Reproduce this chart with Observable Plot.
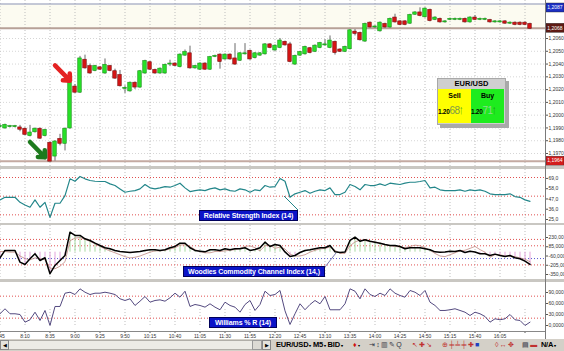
<!DOCTYPE html>
<html><head><meta charset="utf-8">
<script src="https://cdn.jsdelivr.net/npm/d3@7"></script>
<script src="https://cdn.jsdelivr.net/npm/@observablehq/plot@0.6"></script>
<style>
body{margin:0;background:#fff;}
#wrap{position:relative;width:564px;height:351px;overflow:hidden;background:#fff;font-family:"Liberation Sans",Arial,sans-serif;}
.panel{position:absolute;left:0;width:564px;}
.panel svg{display:block;overflow:hidden}
.sep{position:absolute;left:0;width:564px;background:#c9c7c2;}
.lbl{position:absolute;background:#0c14c8;color:#fff;font-weight:bold;font-size:7px;line-height:9px;height:11px;box-sizing:border-box;border:1px solid #00005a;white-space:nowrap;text-align:center;letter-spacing:-0.1px}
#box{position:absolute;left:437px;top:78px;width:67px;height:45px;background:#cfcfcf;border:1px solid #a8a8a8;box-shadow:3px 3px 0 #a9a9a9;font-weight:bold}
#box .hd{position:absolute;left:0;top:0;width:67px;height:10px;font-size:7.5px;line-height:10px;text-align:center;color:#000}
#box .half{position:absolute;top:10px;height:34px;width:33px;overflow:hidden}
#box .t{position:absolute;left:0;width:100%;top:3px;font-size:7px;text-align:center;color:#000}
#box .p{position:absolute;left:0;top:14px;white-space:nowrap;color:#000;font-size:6.5px;line-height:14px;letter-spacing:-0.3px}
#box .big{font-size:10px;font-weight:normal;letter-spacing:-0.6px}
#box .up{font-size:13px;font-weight:normal;color:#2a9a2a;display:inline-block;transform:scaleX(0.6);margin-left:-1px}
#bar{position:absolute;left:0;top:339px;width:564px;height:12px;background:#d4d0c8;font-size:7.5px;color:#000}
.ic{position:absolute;top:1px;line-height:10px;white-space:nowrap;font-size:7px;letter-spacing:1.2px}
</style>
</head><body><div id="wrap"></div>
<script>
// ---------- data ----------
const startMinute = 7*60 + 45;   // first bar 7:45
const barMinutes = 5;            // M5 bars
const open  = [1.1991,1.1990,1.1991,1.1991,1.1990,1.1989,1.1984,1.1987,1.1989,1.1984,
1.1978,1.1968,1.1981,1.1978,1.1990,1.2022,1.2018,1.2043,1.2038,1.2035,
1.2037,1.2033,1.2038,1.2034,1.2031,1.2021,1.2019,1.2025,1.2022,1.2033,
1.2041,1.2035,1.2033,1.2033,1.2040,1.2040,1.2038,1.2047,1.2048,1.2037,
1.2036,1.2040,1.2036,1.2046,1.2047,1.2044,1.2047,1.2044,1.2043,1.2048,
1.2050,1.2045,1.2047,1.2048,1.2055,1.2051,1.2053,1.2057,1.2055,1.2040,
1.2047,1.2048,1.2052,1.2050,1.2053,1.2055,1.2053,1.2057,1.2051,1.2050,
1.2052,1.2065,1.2064,1.2058,1.2072,1.2069,1.2066,1.2071,1.2069,1.2076,
1.2073,1.2073,1.2072,1.2079,1.2080,1.2077,1.2082,1.2075,1.2075,1.2073,
1.2075,1.2075,1.2075,1.2075,1.2073,1.2076,1.2075,1.2075,1.2074,1.2073,
1.2073,1.2073,1.2072,1.2072,1.2072,1.2072,1.2071];
const high  = [1.1993,1.1993,1.1992,1.1992,1.1992,1.1990,1.1992,1.1990,1.1990,1.1989,
1.1979,1.1980,1.1985,1.1990,1.2029,1.2024,1.2046,1.2047,1.2040,1.2039,
1.2038,1.2044,1.2039,1.2036,1.2035,1.2023,1.2026,1.2026,1.2035,1.2043,
1.2042,1.2036,1.2037,1.2040,1.2043,1.2041,1.2048,1.2051,1.2054,1.2039,
1.2041,1.2041,1.2046,1.2047,1.2048,1.2048,1.2048,1.2056,1.2049,1.2056,
1.2051,1.2049,1.2049,1.2056,1.2056,1.2055,1.2060,1.2058,1.2057,1.2047,
1.2050,1.2054,1.2053,1.2055,1.2057,1.2059,1.2062,1.2058,1.2052,1.2054,
1.2067,1.2067,1.2065,1.2072,1.2073,1.2070,1.2073,1.2072,1.2076,1.2079,
1.2074,1.2074,1.2079,1.2081,1.2084,1.2084,1.2083,1.2077,1.2076,1.2074,
1.2076,1.2076,1.2076,1.2076,1.2077,1.2078,1.2076,1.2076,1.2075,1.2074,
1.2074,1.2074,1.2073,1.2073,1.2073,1.2073,1.2072];
const low   = [1.1990,1.1989,1.1990,1.1990,1.1987,1.1984,1.1983,1.1986,1.1981,1.1983,
1.1964,1.1964,1.1976,1.1972,1.1989,1.2017,1.2017,1.2036,1.2032,1.2034,
1.2035,1.2032,1.2034,1.2028,1.2022,1.2017,1.2018,1.2020,1.2021,1.2032,
1.2035,1.2032,1.2032,1.2032,1.2038,1.2038,1.2037,1.2046,1.2036,1.2036,
1.2035,1.2035,1.2035,1.2045,1.2036,1.2043,1.2043,1.2039,1.2042,1.2047,
1.2043,1.2044,1.2046,1.2047,1.2052,1.2050,1.2052,1.2054,1.2041,1.2039,
1.2046,1.2047,1.2048,1.2049,1.2052,1.2054,1.2052,1.2047,1.2049,1.2049,
1.2051,1.2062,1.2058,1.2057,1.2068,1.2068,1.2065,1.2068,1.2068,1.2072,
1.2070,1.2070,1.2071,1.2078,1.2077,1.2076,1.2073,1.2074,1.2072,1.2072,
1.2074,1.2074,1.2074,1.2072,1.2072,1.2074,1.2074,1.2074,1.2072,1.2072,
1.2072,1.2071,1.2071,1.2070,1.2070,1.2070,1.2067];
const close = [1.1991,1.1992,1.1991,1.1991,1.1989,1.1985,1.1986,1.1989,1.1982,1.1988,
1.1964,1.1979,1.1978,1.1989,1.2025,1.2018,1.2044,1.2037,1.2033,1.2038,
1.2036,1.2039,1.2035,1.2029,1.2023,1.2021,1.2025,1.2022,1.2034,1.2042,
1.2036,1.2033,1.2036,1.2039,1.2040,1.2039,1.2047,1.2049,1.2037,1.2038,
1.2040,1.2036,1.2045,1.2046,1.2042,1.2047,1.2044,1.2040,1.2048,1.2048,
1.2044,1.2048,1.2048,1.2055,1.2053,1.2054,1.2058,1.2055,1.2042,1.2046,
1.2049,1.2053,1.2049,1.2054,1.2056,1.2055,1.2058,1.2049,1.2050,1.2053,
1.2066,1.2064,1.2059,1.2071,1.2069,1.2069,1.2072,1.2069,1.2075,1.2073,
1.2071,1.2071,1.2078,1.2080,1.2078,1.2083,1.2074,1.2076,1.2073,1.2073,
1.2075,1.2075,1.2075,1.2073,1.2076,1.2075,1.2075,1.2075,1.2073,1.2073,
1.2073,1.2072,1.2072,1.2071,1.2071,1.2071,1.2068];
const rsi = [46.0,48.8,48.8,48.8,43.4,40.6,38.1,46.0,38.1,43.4,
27.3,42.4,42.4,50.6,68.6,66.0,71.1,68.6,66.8,66.0,
65.7,65.7,63.2,61.4,57.8,54.2,55.3,56.0,57.8,62.5,
58.9,57.8,58.9,60.3,59.6,61.4,63.9,58.9,54.9,56.0,
56.8,56.0,57.8,58.9,56.8,57.8,56.0,55.3,57.8,56.8,
54.2,56.8,56.0,61.4,59.6,60.3,68.9,66.0,48.8,52.5,
54.2,56.0,53.1,55.3,56.8,56.0,58.9,51.7,51.7,54.2,
62.5,60.3,56.8,62.5,61.4,61.4,63.2,61.4,63.9,63.2,
62.5,63.9,64.9,64.9,65.7,66.8,58.9,59.6,56.8,56.0,
56.0,56.0,56.8,55.3,56.8,56.0,56.8,55.3,52.5,51.7,
51.7,51.7,52.5,49.6,48.8,46.0,44.5];
const cci = [-88,27,27,27,-157,-193,-103,-25,-130,-88,
-338,-208,-130,-52,313,262,262,210,183,141,
105,69,53,27,11,4,-6,3,11,27,
38,38,27,38,69,89,141,141,69,27,
16,5,38,38,27,53,38,53,53,69,
27,42,69,157,89,121,105,4,-67,-52,
-5,27,38,53,69,69,105,6,-4,3,
183,235,172,194,172,157,141,121,105,105,
89,53,69,69,69,53,38,5,-3,4,
16,11,27,-4,16,3,-25,-25,-52,-31,
-52,-67,-52,-88,-103,-141,-193];
const tcci = [10,10,0,0,-60,-100,-120,-90,-100,-120,
-250,-260,-220,-150,180,220,230,200,170,130,
90,50,20,-10,-40,-70,-90,-80,-60,-30,
0,20,20,30,50,70,110,120,90,40,
10,-10,-10,10,10,20,30,40,60,90,
100,70,20,100,110,60,80,50,-30,-60,
-60,-40,0,30,50,60,80,30,-20,-20,
100,160,190,180,170,160,140,120,100,90,
80,70,90,110,100,70,30,-20,-60,-70,
-40,-10,20,30,60,90,40,0,-80,-40,
-40,-60,-60,-70,-90,-110,-150];
const wpr = [32,45.6,32,32,30,9.1,15.6,36.3,13.7,41,
0.1,51.9,51.9,88.1,90.8,84.5,100,90.8,84.5,88.1,
88.1,90.8,88.1,84.5,72.8,68.2,72.8,54.6,66.3,79.1,
63.6,68.2,70,66.3,75.6,88.1,77.2,93.5,51.9,57.3,
54.6,50,59.2,50,42.9,63.6,54.6,50,36.3,57.3,
68.2,41,57.3,93.5,81.8,84.5,95.5,40,2.8,32,
59.2,42.9,57.3,68.2,59.2,79.1,42.9,42.9,42.9,59.2,
100,93.5,72.8,100,84.5,79.1,88.1,81.8,100,88.1,
81.8,77.2,95.5,90.8,81.8,95.5,63.6,54.6,41,41,
42.9,45.6,41,36.3,27.3,36.3,32,24.6,9.1,18.3,
15.6,18.3,30,15.6,13.7,0,9.1];
const timeTicks  = ["7:45","8:10","8:35","9:00","9:25","9:50","10:15","10:40","11:05","11:30","11:55","12:20","12:45","13:10","13:35","14:00","14:25","14:50","15:15","15:40","16:05","16:30"];
const timeLabels = ["7:45","8:10","8:35","9:00","9:25","9:50","10:15","10:40","11:05","11:30","11:55","12:20","12:45","13:10","13:35","14:00","14:25","14:50","15:15","15:40","16:05",""];
const priceTicks = [1.1970,1.1980,1.1990,1.2000,1.2010,1.2020,1.2030,1.2040,1.2050,1.2060];
const priceHigh = 1.2087, priceLast = 1.2068, priceLow = 1.1964;
const rsiTicks = [69,58,47,36,25];
const rsiLevels = [70,50,30];
const cciTicks = [230,85,-60,-205,-350];
const cciRedLevels = [200,100,-200];
const cciBlueLevels = [-100];
const wprTicks = [90,60,30,0];
const wprLevels = [80,20];
const symbol = "EUR/USD", sellPrice = "1.2068", buyPrice = "1.2071";
const panelNames = ["Relative Strength Index (14)","Woodies Commodity Channel Index (14,)","Williams % R (14)"];

// ---------- derived ----------
const n = open.length;
const times = d3.range(n).map(i => { const m = startMinute + barMinutes*i; return Math.floor(m/60) + ":" + String(m%60).padStart(2,"0"); });
const bars = times.map((t,i) => ({t, o:open[i], h:high[i], l:low[i], c:close[i], rsi:rsi[i], cci:cci[i], tcci:tcci[i], wpr:wpr[i]}));

const W = 564, MR = 19;
const xScale = {type:"band", domain:times, range:[-3, -3 + 5*n], paddingInner:0.3, paddingOuter:0.15, align:0.5, round:false};
const style = {fontFamily:"Liberation Sans, Arial, sans-serif", fontSize:"5px", background:"transparent", overflow:"hidden"};
const grid = Plot.gridX(timeTicks, {stroke:"#bdbdbd", strokeOpacity:1, strokeDasharray:"1,2"});
const fmt = (d, dec) => { const s = Math.abs(d).toFixed(dec).replace(".", ","); return (d < 0 ? "-" : "") + s.slice(0, 6); };
const yAxis = (ticks, f) => Plot.axisY(ticks, {anchor:"right", label:null, tickSize:2, tickPadding:1, fontSize:5, fill:"#333", stroke:"#555", tickFormat:f});

const wrap = document.getElementById("wrap");
function place(el, top){ const d = document.createElement("div"); d.className="panel"; d.style.top = top+"px"; d.appendChild(el); wrap.appendChild(d); return el; }
function sep(top,h){ const d=document.createElement("div"); d.className="sep"; d.style.top=top+"px"; d.style.height=h+"px"; wrap.appendChild(d); }

// ---------- price panel ----------
const pricePlot = Plot.plot({
  width:W, height:166, marginLeft:0, marginRight:MR, marginTop:0, marginBottom:0, style,
  x:{...xScale, axis:null},
  y:{domain:[1.1970, 1.2060], range:[153, 38], axis:null},
  color:{type:"identity"},
  marks:[
    Plot.rect([0], {y1:()=>priceLast, y2:()=>priceHigh, fill:"#fcfbf1"}),
    Plot.ruleY(priceTicks, {stroke:"#d6d6d6", strokeDasharray:"1,2"}),
    grid,
    Plot.ruleY([priceHigh], {stroke:"#8a93b8", strokeWidth:1}),
    Plot.ruleY([priceLast], {stroke:"#b7a197", strokeWidth:2}),
    Plot.ruleY([priceLow], {stroke:"#c4aaa2", strokeWidth:2}),
    Plot.ruleX(bars, {x:"t", y1:"l", y2:"h", stroke:"#6a6a6a", strokeWidth:1}),
    Plot.barY(bars, {x:"t", y1:"o", y2:"c", fill:d => d.c >= d.o ? "#28e028" : "#d41414", stroke:d => d.c >= d.o ? "#139013" : "#7a0d0d", strokeWidth:0.6, insetTop:-0.5, insetBottom:-0.5}),
    Plot.arrow([0], {x1:()=>times[11], y1:()=>1.2039, x2:()=>times[14], y2:()=>1.2027, stroke:"#e42222", strokeWidth:4.5, headLength:10, headAngle:85}),
    Plot.arrow([0], {x1:()=>times[6], y1:()=>1.1979, x2:()=>times[9], y2:()=>1.1967, stroke:"#1d7a1d", strokeWidth:4.5, headLength:10, headAngle:85}),
    yAxis(priceTicks, d=>fmt(d,4))
  ]
});
place(pricePlot, 0);
function tag(plot, value, text, bg, minY){
  const y = Math.max(plot.scale("y").apply(value), minY || 0);
  const g = d3.select(plot).append("g");
  g.append("rect").attr("x",546).attr("y",y-4.5).attr("width",18).attr("height",9).attr("fill",bg).attr("stroke","#222").attr("stroke-width",0.4);
  g.append("text").attr("x",555).attr("y",y).attr("dy","0.35em").attr("text-anchor","middle").attr("fill","#fff").attr("font-size",5).attr("font-family","Liberation Sans, Arial").text(text);
}
tag(pricePlot, priceHigh, fmt(priceHigh,4), "#1c2fc4", 7.5);
tag(pricePlot, priceLast, fmt(priceLast,4), "#5e1a14");
tag(pricePlot, priceLow, fmt(priceLow,4), "#d41c1c");

sep(166, 3);

// ---------- RSI ----------
const rsiPlot = Plot.plot({
  width:W, height:54, marginLeft:0, marginRight:MR, marginTop:0, marginBottom:0, style,
  x:{...xScale, axis:null},
  y:{domain:[25,70], range:[50,8], axis:null},
  marks:[
    grid,
    Plot.ruleY(rsiLevels, {stroke:"#e05050", strokeDasharray:"1,2"}),
    Plot.line(bars, {x:"t", y:"rsi", stroke:"#23868a", strokeWidth:1.2}),
    yAxis(rsiTicks, d=>fmt(d,1))
  ]
});
place(rsiPlot, 169);
sep(223, 2);

// ---------- CCI ----------
const cciPlot = Plot.plot({
  width:W, height:54, marginLeft:0, marginRight:MR, marginTop:0, marginBottom:0, style,
  x:{...xScale, axis:null},
  y:{domain:[-350,230], range:[49,12], axis:null},
  color:{type:"identity"},
  marks:[
    grid,
    Plot.ruleY(cciRedLevels, {stroke:"#e05050", strokeDasharray:"1,2"}),
    Plot.ruleY(cciBlueLevels, {stroke:"#5a5ad0", strokeDasharray:"1,2"}),
    Plot.ruleX(bars, {x:"t", y1:0, y2:"cci", stroke:d => d.cci >= 0 ? "#a6dba0" : "#e3a2dc", strokeWidth:1}),
    Plot.line(bars, {x:"t", y:"tcci", stroke:"#c08a84", strokeWidth:0.8}),
    Plot.line(bars, {x:"t", y:"cci", stroke:"#000", strokeWidth:1.5}),
    yAxis(cciTicks, d=>fmt(d,3))
  ]
});
place(cciPlot, 225);
sep(279, 3);

// ---------- Williams %R + time axis ----------
const wprPlot = Plot.plot({
  width:W, height:57, marginLeft:0, marginRight:MR, marginTop:0, marginBottom:8, style,
  x:{...xScale, label:null},
  y:{domain:[0,90], range:[43,10], axis:null},
  marks:[
    Plot.gridX(timeTicks, {stroke:"#bdbdbd", strokeOpacity:1, strokeDasharray:"1,2", y1:0, y2:49}),
    Plot.ruleY(wprLevels, {stroke:"#e05050", strokeDasharray:"1,2"}),
    Plot.line(bars, {x:"t", y:"wpr", stroke:"#544a80", strokeWidth:1}),
    yAxis(wprTicks, d=>fmt(d,4)),
    Plot.axisX(timeTicks, {anchor:"bottom", label:null, tickSize:2, tickPadding:1, fontSize:5, fill:"#333", stroke:"#555", tickFormat:d=>timeLabels[timeTicks.indexOf(d)]})
  ]
});
place(wprPlot, 282);
// bottom axis line
{ const d=document.createElement("div"); d.style.cssText="position:absolute;left:0;top:331px;width:546px;height:1px;background:#888"; wrap.appendChild(d); }
// right axis line
{ const d=document.createElement("div"); d.style.cssText="position:absolute;left:545px;top:0;width:1px;height:339px;background:#7a7a7a"; wrap.appendChild(d); }

// ---------- indicator name boxes ----------
const lblPos = [[199,210,99],[183,266,142],[209,317,68]];
panelNames.forEach((name,i)=>{ const d=document.createElement("div"); d.className="lbl"; d.textContent=name; d.style.left=lblPos[i][0]+"px"; d.style.top=lblPos[i][1]+"px"; d.style.width=lblPos[i][2]+"px"; wrap.appendChild(d); });
// connectors
{ const s = d3.select(wrap).append("svg").attr("width",564).attr("height",351).style("position","absolute").style("left",0).style("top",0).style("pointer-events","none");
  s.append("line").attr("x1",284).attr("y1",196).attr("x2",298).attr("y2",210).attr("stroke","#23868a").attr("stroke-width",1);
  s.append("line").attr("x1",325).attr("y1",267).attr("x2",336).attr("y2",253).attr("stroke","#7a7ab0").attr("stroke-width",1);
}

// ---------- EUR/USD box ----------
{
  const split = p => [p.slice(0,4), p.slice(4)];
  const [s1,s2] = split(sellPrice), [b1,b2] = split(buyPrice);
  const box = document.createElement("div"); box.id="box";
  box.innerHTML = `<div class="hd">${symbol}</div>
   <div class="half" style="left:0;background:#ffff00"><div class="t">Sell</div><div class="p" style="left:0px">${s1}<span class="big" style="color:#7d9a4a">${s2}</span><span class="up">↑</span></div></div>
   <div class="half" style="left:33px;width:33px;background:#1eec1e"><div class="t">Buy</div><div class="p" style="left:0px">${b1}<span class="big" style="color:#8fd88f">${b2}</span><span class="up" style="color:#1a8a1a">↑</span></div></div>`;
  wrap.appendChild(box);
}

// ---------- bottom bar ----------
{
  const bar = document.createElement("div"); bar.id="bar";
  bar.innerHTML = `<div style="position:absolute;left:0;top:1px;width:271px;height:10px;background:#ecebe6;border:1px solid #b0aea8;box-sizing:border-box"></div>
  <div style="position:absolute;left:0;top:1px;width:9px;height:10px;background:#e4e2dc;border:1px solid #888;box-sizing:border-box;font-size:5px;line-height:8px;text-align:center">◀</div>
  <div style="position:absolute;left:262px;top:1px;width:9px;height:10px;background:#e4e2dc;border:1px solid #888;box-sizing:border-box;font-size:5px;line-height:8px;text-align:center">▶</div>
  <div style="position:absolute;left:252px;top:1px;width:10px;height:10px;background:#dcdad4;border:1px solid #999;box-sizing:border-box"></div>
  <div style="position:absolute;left:276px;top:1px;line-height:10px;white-space:nowrap;font-weight:bold;letter-spacing:-0.2px">EUR/USD<span style="font-size:4px"> ▾</span> M5<span style="font-size:4px"> ▾</span> BID<span style="font-size:4px"> ▾</span></div>
  <div class="ic" style="left:353px;color:#d01010">♦<span style="font-size:4px;color:#000">▾</span></div>
  <div class="ic" style="left:369px;color:#334">⇥↕▥✎Q</div>
  <div class="ic" style="left:412px;color:#c03030">↖✚↘</div>
  <div class="ic" style="left:442px;color:#c03030">⊕╪╧╪✚<span style="color:#2040c0">■</span></div>
  <div class="ic" style="left:495px;color:#c03030">◊↔✥</div>
  <div class="ic" style="left:522px;color:#334">▤<span style="color:#c03030">▬</span></div>
  <div style="position:absolute;left:541px;top:1px;line-height:10px;white-space:nowrap;font-weight:bold;letter-spacing:-0.3px">N/A<span style="font-size:4px"> ▾</span></div>`;
  wrap.appendChild(bar);
}
</script>
</body></html>
